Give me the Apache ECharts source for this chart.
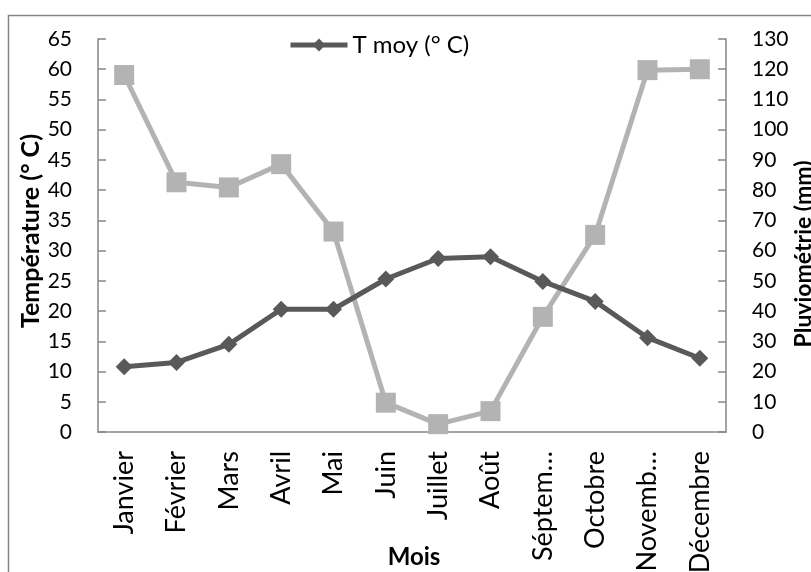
<!DOCTYPE html>
<html>
<head>
<meta charset="utf-8">
<script src="https://cdn.jsdelivr.net/npm/echarts@6/dist/echarts.min.js"></script>
<style>
  html, body { margin: 0; padding: 0; background: #fff; }
  #chart { width: 811px; height: 572px; }
</style>
</head>
<body>
<div id="chart"></div>
<script>
// Monthly climate data: mean temperature and rainfall
const months = ['Janvier', 'Février', 'Mars', 'Avril', 'Mai', 'Juin', 'Juillet', 'Août', 'Séptem…', 'Octobre', 'Novemb…', 'Décembre'];
const tempMoy = [10.8, 11.5, 14.5, 20.3, 20.3, 25.3, 28.7, 29.0, 24.9, 21.6, 15.6, 12.2];
const pluvio = [118.1, 82.6, 80.9, 88.6, 66.3, 9.7, 2.6, 6.9, 38.1, 65.2, 119.7, 120.0];

const FONT = 'Lato, "Open Sans", sans-serif';
const AXIS_GREY = '#868686';

const chart = echarts.init(document.getElementById('chart'));
chart.setOption({
  animation: false,
  backgroundColor: '#ffffff',
  textStyle: { fontFamily: FONT },
  grid: { left: 98, right: 85, top: 39, bottom: 140, containLabel: false, outerBoundsMode: 'none' },
  legend: {
    data: ['T moy (° C)'],
    left: 283, top: 28,
    itemWidth: 57, itemHeight: 16, itemGap: 3,
    lineStyle: { width: 5 },
    textStyle: { fontFamily: FONT, fontSize: 24, color: '#000' }
  },
  xAxis: {
    type: 'category',
    data: months,
    boundaryGap: true,
    axisLine: { lineStyle: { color: AXIS_GREY, width: 1.5 } },
    axisTick: { inside: true, length: 7, lineStyle: { color: AXIS_GREY, width: 1.5 } },
    axisLabel: { rotate: 90, margin: 19, interval: 0, fontSize: 27, color: '#000', fontFamily: FONT }
  },
  yAxis: [
    {
      type: 'value', min: 0, max: 65, interval: 5,
      splitLine: { show: false },
      axisLine: { show: true, lineStyle: { color: AXIS_GREY, width: 1.5 } },
      axisTick: { show: true, inside: true, length: 8, lineStyle: { color: AXIS_GREY, width: 1.5 } },
      axisLabel: { margin: 26, fontSize: 21, color: '#000', fontFamily: FONT }
    },
    {
      type: 'value', min: 0, max: 130, interval: 10,
      splitLine: { show: false },
      axisLine: { show: true, lineStyle: { color: AXIS_GREY, width: 1.5 } },
      axisTick: { show: true, inside: true, length: 8, lineStyle: { color: AXIS_GREY, width: 1.5 } },
      axisLabel: { margin: 26, fontSize: 21, color: '#000', fontFamily: FONT }
    }
  ],
  series: [
    {
      name: 'Pluviométrie (mm)',
      type: 'line',
      yAxisIndex: 1,
      data: pluvio,
      symbol: 'rect', symbolSize: 20,
      lineStyle: { color: '#b3b3b3', width: 5 },
      itemStyle: { color: '#b3b3b3' },
      z: 2
    },
    {
      name: 'T moy (° C)',
      type: 'line',
      yAxisIndex: 0,
      data: tempMoy,
      symbol: 'diamond', symbolSize: 17,
      lineStyle: { color: '#595959', width: 5 },
      itemStyle: { color: '#595959' },
      z: 3
    }
  ],
  graphic: [
    {
      type: 'rect', silent: true, z: -1,
      shape: { x: 8.5, y: 15.5, width: 820, height: 580 },
      style: { fill: null, stroke: AXIS_GREY, lineWidth: 1.5 }
    },
    {
      type: 'text', x: 31, y: 231, rotation: Math.PI / 2,
      style: { text: 'Température (° C)', fontFamily: FONT, fontWeight: 'bold', fontSize: 25, fill: '#000', align: 'center', verticalAlign: 'middle' }
    },
    {
      type: 'text', x: 804, y: 254, rotation: Math.PI / 2,
      style: { text: 'Pluviométrie (mm)', fontFamily: FONT, fontWeight: 'bold', fontSize: 23, fill: '#000', align: 'center', verticalAlign: 'middle' }
    },
    {
      type: 'text', x: 414, y: 557,
      style: { text: 'Mois', fontFamily: FONT, fontWeight: 'bold', fontSize: 24, fill: '#000', align: 'center', verticalAlign: 'middle' }
    }
  ]
});
</script>
</body>
</html>
